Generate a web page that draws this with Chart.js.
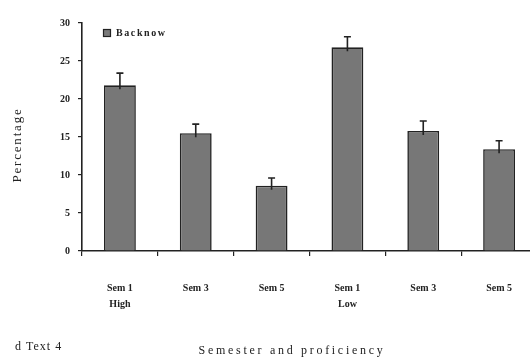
<!DOCTYPE html>
<html>
<head>
<meta charset="utf-8">
<script src="https://cdn.jsdelivr.net/npm/chart.js@4.4.1/dist/chart.umd.min.js"></script>
<style>
  html, body { margin: 0; padding: 0; background: #fff; overflow: hidden; }
  #wrap { position: relative; width: 540px; height: 362px; }
</style>
</head>
<body>
<div id="wrap"><canvas id="c" width="540" height="362"></canvas></div>
<script>
// Backnow percentages by semester, split by proficiency group
const semesters = ["Sem 1", "Sem 3", "Sem 5", "Sem 1", "Sem 3", "Sem 5"];
const groups = ["High", "", "", "Low", "", ""];
const backnow = [21.8, 15.5, 8.6, 26.8, 15.8, 13.4];
const backnowErr = [1.6, 1.2, 1.0, 1.4, 1.3, 1.1];
const yTicks = [0, 5, 10, 15, 20, 25, 30];

const categoryLabels = semesters.map((s, i) => groups[i] ? [s, groups[i]] : s);

const serif = '"Liberation Serif", "DejaVu Serif", serif';
const ink = '#222';

// Upward error whiskers with a short cap
const errorBars = {
  id: 'errorBars',
  afterDatasetsDraw(chart) {
    const { ctx, scales: { x, y } } = chart;
    const meta = chart.getDatasetMeta(0);
    ctx.save();
    ctx.strokeStyle = ink;
    ctx.lineWidth = 1.6;
    meta.data.forEach((bar, i) => {
      const v = backnow[i];
      const top = y.getPixelForValue(v + backnowErr[i]);
      const base = y.getPixelForValue(v) + 4;
      const cx = x.getPixelForValue(i);
      ctx.beginPath();
      ctx.moveTo(cx, base);
      ctx.lineTo(cx, top);
      ctx.moveTo(cx - 3.5, top);
      ctx.lineTo(cx + 3.5, top);
      ctx.stroke();
    });
    ctx.restore();
  }
};

// Legend key, axis titles and panel tag
const annotations = {
  id: 'annotations',
  afterDraw(chart) {
    const { ctx } = chart;
    ctx.save();
    // legend key
    ctx.fillStyle = '#7a7a7a';
    ctx.strokeStyle = ink;
    ctx.lineWidth = 1.2;
    ctx.fillRect(103.5, 29.5, 7, 7);
    ctx.strokeRect(103.5, 29.5, 7, 7);
    ctx.fillStyle = ink;
    ctx.font = 'bold 10px ' + serif;
    ctx.letterSpacing = '1.6px';
    ctx.textBaseline = 'middle';
    ctx.textAlign = 'left';
    ctx.fillText(chart.data.datasets[0].label, 116, 33);

    // y title
    ctx.font = '13px ' + serif;
    ctx.letterSpacing = '1.8px';
    ctx.translate(18, 145);
    ctx.rotate(-Math.PI / 2);
    ctx.textAlign = 'center';
    ctx.fillText('Percentage', 0, 0);
    ctx.setTransform(1, 0, 0, 1, 0, 0);

    // x title
    ctx.font = '12px ' + serif;
    ctx.letterSpacing = '2.7px';
    ctx.textAlign = 'center';
    ctx.fillText('Semester and proficiency', 292, 351);

    // panel tag
    ctx.letterSpacing = '1px';
    ctx.font = '12px ' + serif;
    ctx.textAlign = 'left';
    ctx.fillText('d Text 4', 15, 347);
    ctx.restore();
  }
};

new Chart(document.getElementById('c'), {
  type: 'bar',
  data: {
    labels: categoryLabels,
    datasets: [{
      label: 'Backnow',
      data: backnow,
      backgroundColor: '#777',
      borderColor: ink,
      borderWidth: 1.6,
      barPercentage: 0.42,
      categoryPercentage: 1.0
    }]
  },
  options: {
    responsive: false,
    animation: false,
    devicePixelRatio: 1,
    layout: { padding: { top: 23, right: 3, left: 0, bottom: 0 } },
    plugins: { legend: { display: false }, tooltip: { enabled: false } },
    scales: {
      x: {
        offset: true,
        grid: { display: true, offset: true, drawOnChartArea: false, drawTicks: true, tickLength: 5, color: ink, lineWidth: 1.2 },
        border: { display: true, color: ink, width: 1.5 },
        ticks: {
          color: ink,
          padding: 24,
          maxRotation: 0,
          autoSkip: false,
          font: { family: serif, size: 10, weight: 'bold', lineHeight: 1.6 }
        },
        afterFit(scale) { scale.height = 111; }
      },
      y: {
        min: 0,
        max: 30,
        afterBuildTicks(scale) { scale.ticks = yTicks.map(v => ({ value: v })); },
        grid: { display: true, drawOnChartArea: false, drawTicks: true, tickLength: 4, color: ink, lineWidth: 1.2 },
        border: { display: true, color: ink, width: 1.6 },
        ticks: {
          color: ink,
          padding: 8,
          font: { family: serif, size: 10, weight: 'bold' }
        },
        afterFit(scale) { scale.width = 82; }
      }
    }
  },
  plugins: [errorBars, annotations]
});
</script>
</body>
</html>
